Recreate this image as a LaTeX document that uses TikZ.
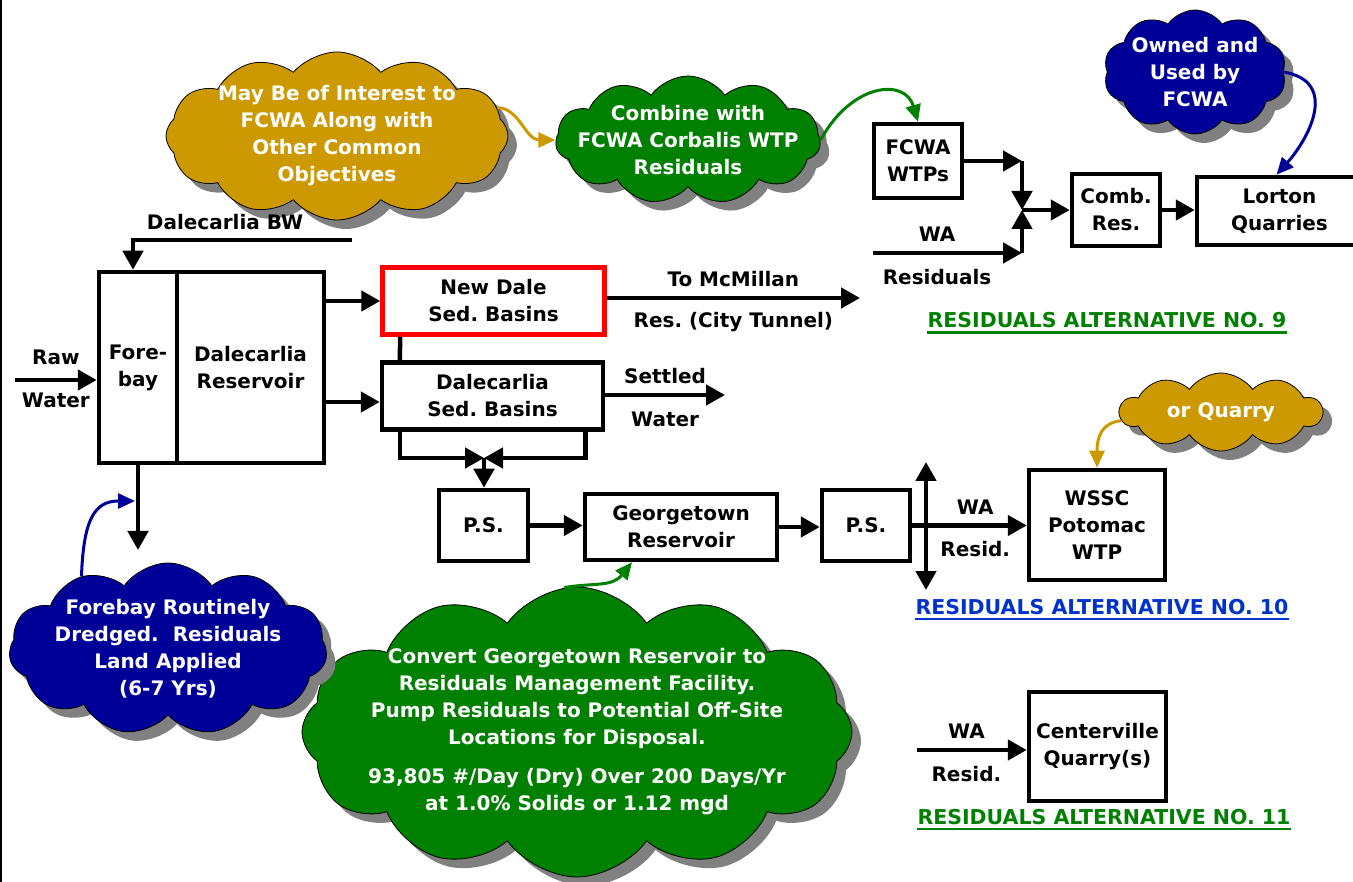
\documentclass[tikz,border=0pt]{standalone}
\usepackage{fontspec}
\setmainfont{DejaVu Sans}
\usetikzlibrary{arrows.meta,positioning,shapes.symbols,shadows}

\definecolor{cgold}{HTML}{CC9900}
\definecolor{cgreen}{HTML}{008000}
\definecolor{cnavy}{HTML}{000099}
\definecolor{cblue}{HTML}{0033CC}

\newcommand{\boxfont}{\fontsize{20}{27}\selectfont\bfseries}
\newcommand{\altfont}{\fontsize{20.5}{24}\selectfont\bfseries}
\frenchspacing

\begin{document}
\begin{tikzpicture}[x=1pt,y=-1pt,>={Triangle[length=19pt,width=20pt]}]
	\tikzset{block/.style={draw, rectangle, line width=4.5pt, align=center, inner sep=0pt, font=\boxfont},
		lbl/.style={font=\boxfont, inner sep=0pt, text height=15pt, text depth=5pt},
		flow/.style={line width=4.5pt},
		note/.style={cloud, cloud puffs=11, cloud puff arc=110, cloud ignores aspect, draw=black, line width=0.8pt, text=white, align=center, font=\boxfont, drop shadow={shadow xshift=9pt, shadow yshift=-9pt, fill=black!50, opacity=1}},
		hint/.style={line width=3pt, -{Triangle[length=17pt,width=15pt]}},
		alt/.style={font=\altfont, inner sep=0pt}
	}
	\useasboundingbox (0,0) rectangle (1353,882);
	\draw[line width=2pt] (1,0) -- (1,882);

	% boxes
	\node[block, minimum width=78pt, minimum height=191pt] (fore) at (138,367.5) {Fore-\\bay};
	\node[block, minimum width=147pt, minimum height=191pt, right=-4.5pt of fore] (res) {Dalecarlia\\Reservoir};
	\node[block, draw=red, minimum width=222pt, minimum height=67pt] (newdale) at (493.5,301) {New Dale\\Sed. Basins};
	\node[block, minimum width=221pt, minimum height=67pt] (dalsed) at (492.5,396) {Dalecarlia\\Sed. Basins};
	\node[block, minimum width=89pt, minimum height=71pt] (ps1) at (483.5,525.5) {P.S.};
	\node[block, minimum width=192pt, minimum height=66pt] (geo) at (681,527) {Georgetown\\Reservoir};
	\node[block, minimum width=88pt, minimum height=71pt] (ps2) at (866,525.5) {P.S.};
	\node[block, minimum width=136pt, minimum height=110pt] (wssc) at (1097,525) {WSSC\\Potomac\\WTP};
	\node[block, minimum width=137pt, minimum height=109pt] (cvq) at (1097.5,746.5) {Centerville\\Quarry(s)};
	\node[block, minimum width=88pt, minimum height=74pt] (fcwa) at (918,161) {FCWA\\WTPs};
	\node[block, minimum width=88pt, minimum height=72pt] (comb) at (1116,210) {Comb.\\Res.};
	\node[block, minimum width=165pt, minimum height=68pt] (lorton) at (1279.5,211) {Lorton\\Quarries};

	% clouds
	\node[note, fill=cgold, cloud puffs=12, cloud puff arc=100, inner xsep=-110pt, inner ysep=-45pt, minimum width=342pt, minimum height=168pt] (may) at (337,136) {May Be of Interest to\\FCWA Along with\\Other Common\\Objectives};
	\node[note, fill=cgreen, inner xsep=-100pt, inner ysep=-30pt, minimum width=265pt, minimum height=128pt] (cmb) at (688,140) {Combine with\\FCWA Corbalis WTP\\Residuals};
	\node[note, fill=cnavy, cloud puffs=10, inner xsep=-50pt, inner ysep=-30pt, minimum width=183pt, minimum height=124pt] (own) at (1195,72) {Owned and\\Used by\\FCWA};
	\node[note, fill=cgold, cloud puffs=10, inner xsep=-45pt, inner ysep=-5pt, minimum width=202pt, minimum height=78pt] (qry) at (1221,412) {or Quarry};
	\node[note, fill=cgreen, cloud puffs=12, inner xsep=-170pt, inner ysep=-70pt, minimum width=550pt, minimum height=290pt] (gtc) at (577,732) {Convert Georgetown Reservoir to\\Residuals Management Facility.\\Pump Residuals to Potential Off-Site\\Locations for Disposal.\\[12pt]93,805 \#/Day (Dry) Over 200 Days/Yr\\at 1.0\% Solids or 1.12 mgd};
	\node[note, fill=cnavy, inner xsep=-100pt, inner ysep=-45pt, minimum width=318pt, minimum height=172pt] (fbc) at (168,649) {Forebay Routinely\\Dredged.~~Residuals\\Land Applied\\(6-7 Yrs)};

	% flows
	\coordinate (rawin) at (15,380);
	\draw[flow,->] (rawin) -- node[lbl, above=8pt] (rawlbl) {Raw} node[lbl, below=10pt] (waterlbl) {Water} (fore.west |- rawin);
	\coordinate (bwin) at (352,240);
	\draw[flow,->] (bwin) -| node[lbl, pos=0.29, above=3pt] (bwlbl) {Dalecarlia BW} ([xshift=-5pt]fore.north);
	\draw[flow,->] (res.east |- newdale.west) -- (newdale.west);
	\coordinate (dalin) at ([yshift=-6pt]dalsed.west);
	\draw[flow,->] (res.east |- dalin) -- (dalin);
	\coordinate (mcm) at (860,298);
	\draw[flow,->] (newdale.east |- mcm) -- node[lbl, above=4pt] (mcmlbl) {To McMillan} node[lbl, below=12pt] (tunlbl) {Res. (City Tunnel)} (mcm);
	\coordinate (swout) at (725,395);
	\draw[flow,->] (dalsed.east |- swout) -- node[lbl, above=4pt] (setlbl) {Settled} node[lbl, below=14pt] (swlbl) {Water} (swout);
	\draw[flow] ([xshift=20pt]newdale.south west) -- ([xshift=20pt]dalsed.north west);
	\coordinate (mrg) at (484,458);
	\draw[flow,->] ([xshift=20pt]dalsed.south west) |- (mrg);
	\draw[flow,->] ([xshift=-20pt]dalsed.south east) |- (mrg);
	\draw[flow,->] (mrg) -- (mrg |- ps1.north);
	\draw[flow,->] (ps1.east) -- (ps1.east -| geo.west);
	\draw[flow,->] (geo.east) -- (geo.east -| ps2.west);
	\draw[flow,->] (ps2.east) -- node[lbl, pos=0.55, above=4pt] (walbl) {WA} node[lbl, pos=0.55, below=14pt] (residlbl) {Resid.} (ps2.east -| wssc.west);
	\coordinate (vtop) at (926,462);
	\coordinate (vbot) at (926,590);
	\draw[flow,<->] (vtop) -- (vbot);
	\coordinate (fbout) at (138,550);
	\draw[flow,->] (fore.south) -- (fbout);

	\coordinate (jmid) at (1022,210);
	\coordinate (wares) at (873,253);
	\draw[flow,->] (fcwa.east) -- (fcwa.east -| jmid);
	\draw[flow,->] (fcwa.east -| jmid) -- (jmid);
	\draw[flow,->] (wares) -- node[lbl, pos=0.43, above=4pt] (walbl9) {WA} node[lbl, pos=0.43, below=14pt] (residlbl9) {Residuals} (wares -| jmid);
	\draw[flow,->] (wares -| jmid) -- (jmid);
	\draw[flow,->] (jmid) -- (comb.west);
	\draw[flow,->] (comb.east) -- (comb.east -| lorton.west);

	\coordinate (cvin) at (917,750);
	\draw[flow,->] (cvin) -- node[lbl, pos=0.45, above=4pt] (walbl11) {WA} node[lbl, pos=0.45, below=14pt] (residlbl11) {Resid.} (cvin -| cvq.west);

	% notes pointing at things
	\draw[hint, cgold] (may.10) .. controls +(22,0) and +(-30,0) .. (cmb.west);
	\draw[hint, cgreen] (cmb.east) .. controls +(31,-57) and +(-13,-44) .. (fcwa.north);
	\draw[hint, cnavy] (own.east) .. controls +(56,9) and +(33,-37) .. ([xshift=-3pt]lorton.north);
	\draw[hint, cgold] (qry.185) .. controls +(-20,2) and +(0,-30) .. (wssc.north);
	\coordinate (fbtip) at (135,501);
	\draw[hint, cnavy] (fbc.140) .. controls +(2,-58) and +(-40,0) .. (fbtip);
	\draw[hint, cgreen] (gtc.95) .. controls +(30,-5) and +(-20,25) .. ([xshift=-49pt]geo.south);

	% alternative titles
	\node[alt, text=cgreen] (alt9) at (1107,320.5) {RESIDUALS ALTERNATIVE NO. 9};
	\draw[cgreen, line width=2.5pt] ([yshift=-4pt]alt9.south west) -- ([yshift=-4pt]alt9.south east);
	\node[alt, text=cblue] (alt10) at (1102,607) {RESIDUALS ALTERNATIVE NO. 10};
	\draw[cblue, line width=2.5pt] ([yshift=-4pt]alt10.south west) -- ([yshift=-4pt]alt10.south east);
	\node[alt, text=cgreen] (alt11) at (1104,817) {RESIDUALS ALTERNATIVE NO. 11};
	\draw[cgreen, line width=2.5pt] ([yshift=-4pt]alt11.south west) -- ([yshift=-4pt]alt11.south east);
\end{tikzpicture}
\end{document}
